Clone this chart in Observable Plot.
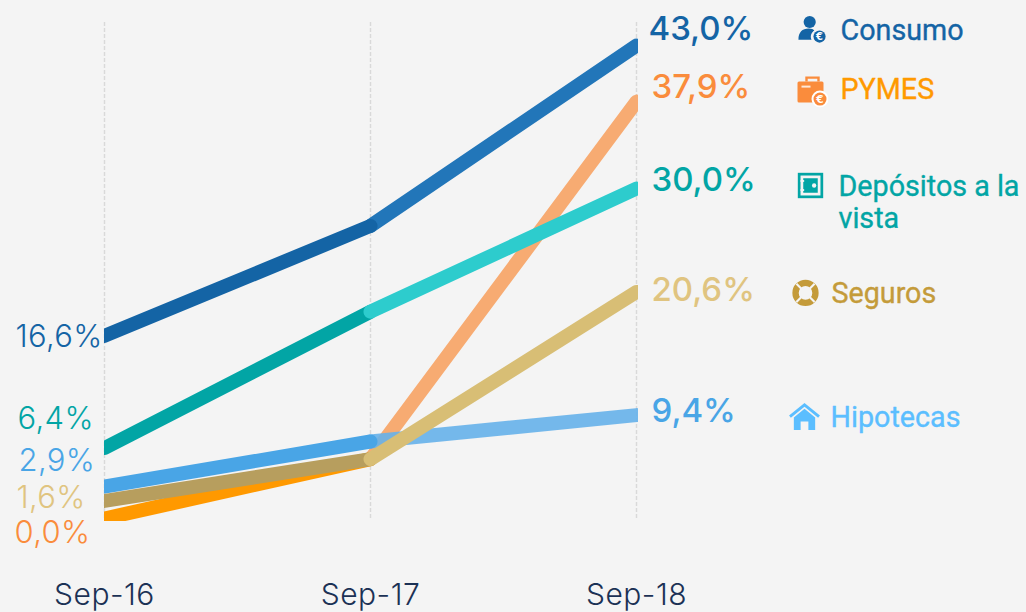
<!DOCTYPE html>
<html><head><meta charset="utf-8">
<script src="https://cdn.jsdelivr.net/npm/d3@7"></script>
<script src="https://cdn.jsdelivr.net/npm/@observablehq/plot@0.6"></script>
<style>html,body{margin:0;padding:0;background:#f4f4f4;overflow:hidden}svg{display:block}
.wide text{letter-spacing:.35px}.tick-wide text{letter-spacing:.5px}</style>
</head><body><div id="chart"></div>
<script>
const periods = ["Sep-16","Sep-17","Sep-18"];
const consumo = [16.6,26.6,43.0];
const pymes = [0.0,5.4,37.9];
const depositos = [6.4,18.8,30.0];
const seguros = [1.6,5.4,20.6];
const hipotecas = [2.9,7.0,9.4];
const names = ["Consumo","PYMES","Depósitos a la\nvista","Seguros","Hipotecas"];

const pct = v => v.toFixed(1).replace(".",",")+"%";
const seg = (vals,i) => [{p:periods[i],v:vals[i]},{p:periods[i+1],v:vals[i+1]}];

// draw order, bottom to top: [values, segment index, colour, opacity]
const layers = [
  [pymes,1,"#f7ab72",1],[pymes,0,"#ff9900",1],
  [hipotecas,1,"#66b1ea",.9],[hipotecas,0,"#49a5e6",1],
  [consumo,1,"#2276b9",1],[consumo,0,"#1464a5",1],
  [depositos,0,"#02a5a5",1],[depositos,1,"#2dcccd",1],
  [seguros,0,"#b79e5e",1],[seguros,1,"#d8be75",1]
];
const lineMarks = layers.map(([vals,i,c,o]) => Plot.line(seg(vals,i),{x:"p",y:"v",stroke:c,strokeOpacity:o,strokeWidth:14,strokeLinecap:"round",clip:"frame"}));

// start labels: [values, colour, dx, dy]
const startLabels = [
  [consumo,"#1464a5",-89,1],[depositos,"#02a5a5",-87,-29],[hipotecas,"#49a5e6",-86,-26],
  [seguros,"#e0c480",-88,-3],[pymes,"#fa8c3c",-90,15]
];
// end labels
const endLabels = [
  [consumo,"#1464a5",12,-16],[pymes,"#fa8c3c",15,-14],[depositos,"#02a5a5",15,-8],
  [seguros,"#e0c480",15,-1],[hipotecas,"#49a5e6",15,-3.6]
];
const startMarks = startLabels.map(([vals,c,dx,dy]) => Plot.text([{p:periods[0],v:vals[0]}],{x:"p",y:"v",text:d=>pct(d.v),fill:c,dx,dy,textAnchor:"start",fontSize:31,fontWeight:300,className:"wide"}));
const endMarks = endLabels.map(([vals,c,dx,dy]) => Plot.text([{p:periods[2],v:vals[2]}],{x:"p",y:"v",text:d=>pct(d.v),fill:c,dx,dy,textAnchor:"start",fontSize:33,fontWeight:500}));

// legend text: [values, name, colour, dx, dy]
const legendText = [
  [consumo,names[0],"#1464a5",204,-16],[pymes,names[1],"#ff9900",204,-13],[depositos,names[2],"#02a5a5",202,13.5],
  [seguros,names[3],"#c49b3a",195,1],[hipotecas,names[4],"#5bbeff",194,1.5]
];
const legendMarks = legendText.map(([vals,t,c,dx,dy]) => Plot.text([{p:periods[2],v:vals[2]}],{x:"p",y:"v",text:()=>t,fill:c,dx,dy,textAnchor:"start",lineAnchor:"middle",fontSize:28.7,fontWeight:400,stroke:c,strokeWidth:.35,fontFamily:"Roboto",lineHeight:1.11}));

const svgUri = s => "data:image/svg+xml;utf8,"+encodeURIComponent(`<svg xmlns="http://www.w3.org/2000/svg" viewBox="0 0 32 32">${s}</svg>`);
const euro = (c,bg) => `<circle cx="23.5" cy="23.5" r="8.5" fill="${bg}"/><circle cx="23.5" cy="23.5" r="6.5" fill="${c}"/><text x="23.5" y="27.5" font-size="10.5" font-family="DejaVu Sans" font-weight="bold" text-anchor="middle" fill="#fff">€</text>`;
const icons = {
  consumo: svgUri(`<circle cx="13" cy="8" r="6.5" fill="#1464a5"/><path d="M1 27c0-8 4-12 11-12 3 0 5 1 6 2-3 2-5 6-3 10z" fill="#1464a5"/>`+euro("#1464a5","#f4f4f4")),
  pymes: svgUri(`<path d="M10 6V2h12v4" fill="none" stroke="#fa8c3c" stroke-width="2.4"/><rect x="1" y="6" width="26" height="21" rx="1.5" fill="#fa8c3c"/><rect x="5" y="10" width="9" height="2" fill="#fff" opacity=".8"/>`+euro("#fa8c3c","#fff")),
  depositos: svgUri(`<rect x="2" y="2" width="28" height="28" fill="#02a5a5"/><rect x="5" y="5" width="22" height="22" fill="#f4f4f4"/><rect x="8" y="8" width="16" height="16" fill="#02a5a5"/><circle cx="20" cy="16" r="2.4" fill="#f4f4f4"/><rect x="5" y="10" width="4" height="2" fill="#f4f4f4"/><rect x="5" y="20" width="4" height="2" fill="#f4f4f4"/>`),
  seguros: svgUri(`<circle cx="16" cy="16" r="11" fill="none" stroke="#c49b3a" stroke-width="7"/><g stroke="#f4f4f4" stroke-width="2.4"><path d="M6 6l6 6M26 6l-6 6M6 26l6-6M26 26l-6-6"/></g>`),
  hipotecas: svgUri(`<path d="M1 15L16 3l15 12" fill="none" stroke="#5bbeff" stroke-width="3"/><path d="M5 16L16 7l11 9v13h-7v-9h-8v9H5z" fill="#5bbeff"/>`)
};
const iconMarks = [
  [consumo,icons.consumo,176,-16,30],[pymes,icons.pymes,176,-10,32],[depositos,icons.depositos,174,-3,29],
  [seguros,icons.seguros,169,1,29],[hipotecas,icons.hipotecas,168,2.4,31]
].map(([vals,src,dx,dy,w]) => Plot.image([{p:periods[2],v:vals[2]}],{x:"p",y:"v",src:()=>src,width:w,height:w,dx,dy}));

const chart = Plot.plot({
  width:1026,height:612,
  marginLeft:104,marginRight:388,marginTop:22,marginBottom:91,
  style:{background:"#f4f4f4",fontFamily:"Inter"},
  x:{type:"point",domain:periods,range:[104,636],padding:0,label:null},
  y:{domain:[0,43],range:[518,45],axis:null,label:null},
  marks:[
    Plot.axisX({anchor:"bottom",tickSize:0,tickPadding:62,fontSize:30,fontWeight:300,fill:"#1b3155",label:null,className:"tick-wide"}),
    Plot.ruleX(periods,{stroke:"#d9d9d9",strokeDasharray:"4 2",strokeWidth:1.5,insetBottom:3}),
    ...lineMarks,...startMarks,...endMarks,...legendMarks,...iconMarks
  ]
});
document.getElementById("chart").appendChild(chart);
</script></body></html>
